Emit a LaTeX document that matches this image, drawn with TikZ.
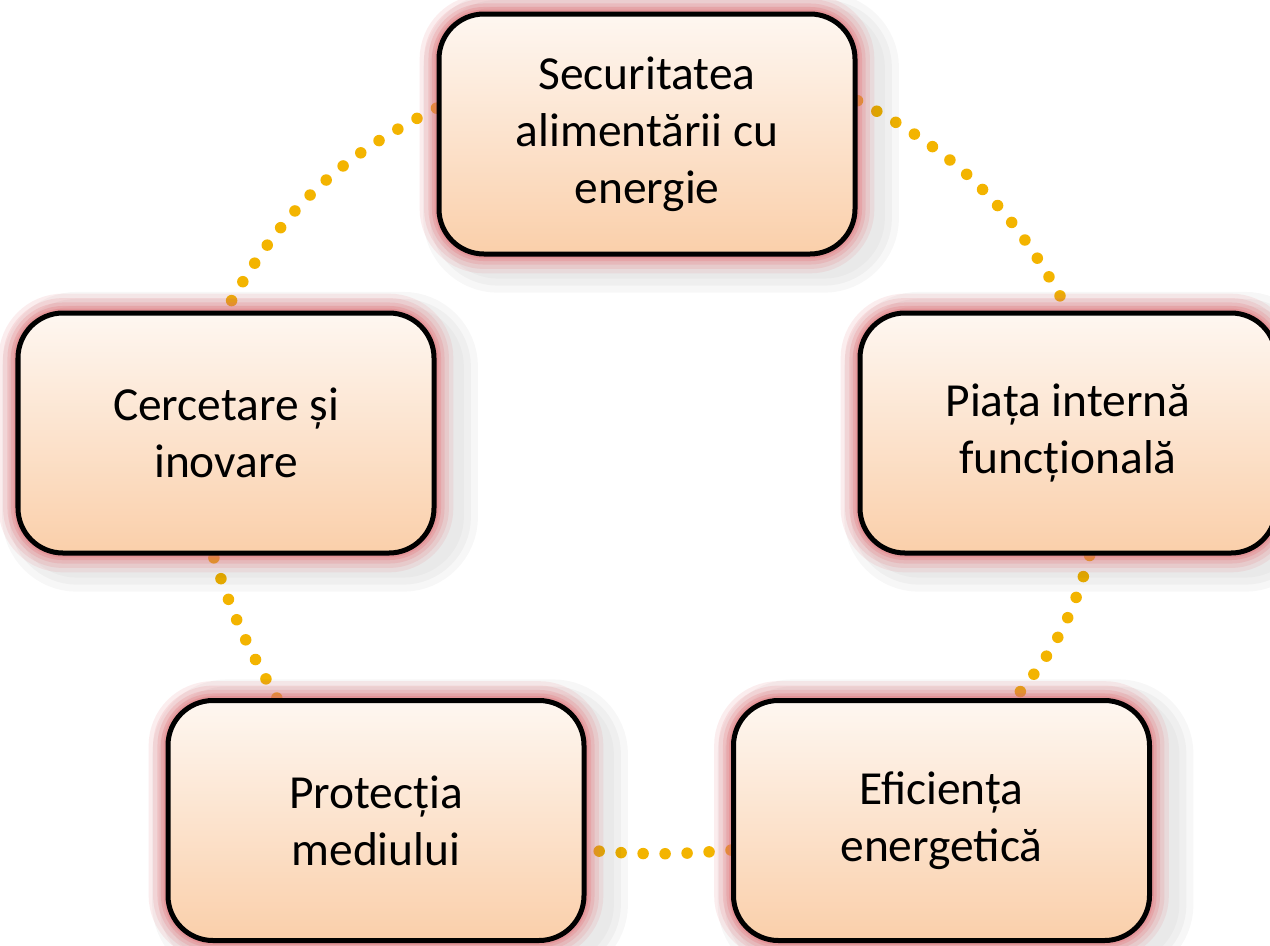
\documentclass[tikz,border=0pt]{standalone}
\usepackage{fontspec}
\setmainfont{Carlito}
\usepackage{tikz}
\usetikzlibrary{backgrounds}
\definecolor{boxTop}{RGB}{254,247,241}
\definecolor{boxBot}{RGB}{250,207,170}
\definecolor{glowRed}{RGB}{228,112,118}
\definecolor{dotGold}{RGB}{243,180,0}

\tikzset{
  goalbox/.style={rectangle, rounded corners=0.9cm, draw=black, line width=0.1cm,
    minimum width=8.32cm, minimum height=4.8cm, inner sep=0pt, align=center,
    top color=boxTop, bottom color=boxBot,
    font=\fontsize{27}{32.5}\selectfont,
    preaction={draw=black, opacity=0.03, line width=34pt, transform canvas={xshift=8pt, yshift=-5pt}},
    preaction={draw=black, opacity=0.03, line width=26pt, transform canvas={xshift=8pt, yshift=-5pt}},
    preaction={draw=black, opacity=0.025, line width=18pt, transform canvas={xshift=8pt, yshift=-5pt}},
    preaction={draw=glowRed, opacity=0.12, line width=22pt},
    preaction={draw=glowRed, opacity=0.15, line width=17pt},
    preaction={draw=glowRed, opacity=0.2, line width=12pt},
    preaction={draw=glowRed, opacity=0.25, line width=8pt},
    preaction={draw=glowRed, opacity=0.3, line width=5pt}},
  linkdots/.style={draw=dotGold, line width=0.23cm, line cap=round, dash pattern=on 0pt off 0.44cm}
}

\begin{document}
\begin{tikzpicture}
  \useasboundingbox (0,0) rectangle (25.4,-18.9);

  % The five pillars
  \node[goalbox] (secur) at (12.94,-2.68) {Securitatea\\alimentării cu\\energie};
  \node[goalbox] (cerc) at (4.52,-8.66) {Cercetare și\\inovare};
  \node[goalbox] (piata) at (21.36,-8.66) {Piața internă\\funcțională};
  \node[goalbox] (prot) at (7.52,-16.41) {Protecția\\mediului};
  \node[goalbox] (efic) at (18.83,-16.41) {Eficiența\\energetică};

  % Dotted cycle behind the boxes
  \begin{scope}[on background layer]
    \fill[white] (0,0) rectangle (25.4,-18.9);
    \draw[linkdots] (secur.173) to[bend right=17] (cerc.north);
    \draw[linkdots] (secur.9) to[bend left=17] (piata.north);
    \draw[linkdots] (piata.280) to[bend left=12] (efic.59);
    \draw[linkdots] (efic.188) to[bend left=5] (prot.352);
    \draw[linkdots] (prot.129) to[bend left=6] (cerc.264);
  \end{scope}
\end{tikzpicture}
\end{document}
